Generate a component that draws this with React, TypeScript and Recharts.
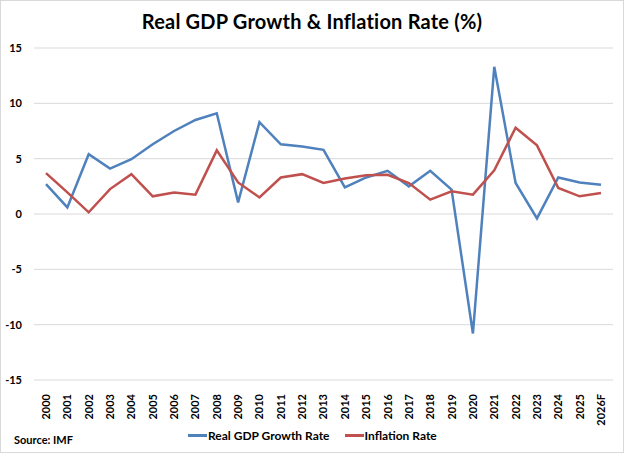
import React from "react";
import { LineChart, Line, XAxis, YAxis, CartesianGrid, Legend } from "recharts";

// Years shown on the category axis (last one is a forecast)
const years = [
  "2000", "2001", "2002", "2003", "2004", "2005", "2006", "2007", "2008", "2009",
  "2010", "2011", "2012", "2013", "2014", "2015", "2016", "2017", "2018", "2019",
  "2020", "2021", "2022", "2023", "2024", "2025", "2026F",
];

// Real GDP growth, % per year
const gdpGrowth = [
  2.7, 0.6, 5.4, 4.1, 4.95, 6.3, 7.5, 8.5, 9.1, 1.05,
  8.3, 6.3, 6.1, 5.8, 2.4, 3.3, 3.9, 2.5, 3.9, 2.2,
  -10.8, 13.3, 2.8, -0.4, 3.3, 2.85, 2.65,
];

// Consumer price inflation, % per year
const inflation = [
  3.7, 1.95, 0.15, 2.25, 3.6, 1.6, 1.95, 1.75, 5.75, 2.85,
  1.5, 3.3, 3.6, 2.8, 3.2, 3.5, 3.55, 2.8, 1.3, 2.05,
  1.75, 3.95, 7.8, 6.2, 2.35, 1.6, 1.9,
];

const yTicks = [-15, -10, -5, 0, 5, 10, 15];
const seriesOrder = ["gdp", "inflation"];

const BLUE = "#4F81BD";
const RED = "#C0504D";
const FONT = "Lato, 'Open Sans', sans-serif";

const rows = years.map((year, i) => ({
  year,
  gdp: gdpGrowth[i],
  inflation: inflation[i],
}));

const YearTick = (props: any) => {
  const { x, y, payload } = props;
  return (
    <text
      transform={`translate(${x},${y}) rotate(-90)`}
      textAnchor="end"
      dy="0.36em"
      fontFamily={FONT}
      fontWeight={700}
      fontSize={11}
      fill="#000"
    >
      {payload.value}
    </text>
  );
};

const LegendContent = (props: any) => {
  const items = [...(props.payload || [])].sort(
    (a: any, b: any) => seriesOrder.indexOf(a.dataKey) - seriesOrder.indexOf(b.dataKey)
  );
  return (
    <div style={{ display: "flex", alignItems: "center", fontFamily: FONT, fontWeight: 700, fontSize: 12, color: "#000", whiteSpace: "nowrap" }}>
      {items.map((item: any, i: number) => (
        <div key={i} style={{ display: "flex", alignItems: "center", marginRight: i === 0 ? 15 : 0 }}>
          <span style={{ display: "inline-block", width: 19, height: 3, background: item.color, marginRight: 1 }} />
          <span>{item.value}</span>
        </div>
      ))}
    </div>
  );
};

export default function App() {
  return (
    <div
      style={{
        position: "absolute",
        left: 0,
        top: 0,
        width: 622,
        height: 451,
        border: "1px solid #d9d9d9",
        background: "#fff",
        overflow: "hidden",
      }}
    >
      <div
        style={{
          position: "absolute",
          left: 0,
          width: 622,
          top: 10,
          lineHeight: "20px",
          textAlign: "center",
          fontFamily: FONT,
          fontWeight: 700,
          fontSize: 20,
          letterSpacing: 0.2,
          color: "#000",
        }}
      >
        Real GDP Growth &amp; Inflation Rate (%)
      </div>
      <div
        style={{
          position: "absolute",
          left: 13,
          top: 432,
          fontFamily: FONT,
          fontWeight: 700,
          fontSize: 11,
          color: "#000",
        }}
      >
        Source: IMF
      </div>
      <div style={{ position: "absolute", left: -1, top: -1 }}>
        <LineChart
          width={624}
          height={453}
          data={rows}
          margin={{ top: 48, right: 11, bottom: 0, left: 0 }}
        >
          <CartesianGrid vertical={false} stroke="#d9d9d9" strokeWidth={1} />
          <XAxis
            dataKey="year"
            axisLine={false}
            tickLine={false}
            interval={0}
            height={73}
            padding={{ left: 12, right: 12 }}
            tick={<YearTick />}
            tickMargin={8}
          />
          <YAxis
            domain={[-15, 15]}
            ticks={yTicks}
            axisLine={false}
            tickLine={false}
            width={34}
            tickSize={0}
            tickMargin={12}
            tick={{ fontFamily: FONT, fontWeight: 700, fontSize: 11, fill: "#000" }}
          />
          <Legend
            verticalAlign="middle"
            align="center"
            layout="horizontal"
            wrapperStyle={{ top: 428, left: 188, width: "auto", height: "auto" }}
            content={<LegendContent />}
          />
          <Line
            name="Real GDP Growth Rate"
            dataKey="gdp"
            stroke={BLUE}
            strokeWidth={2.5}
            dot={false}
            isAnimationActive={false}
          />
          <Line
            name="Inflation Rate"
            dataKey="inflation"
            stroke={RED}
            strokeWidth={2.5}
            dot={false}
            isAnimationActive={false}
          />
        </LineChart>
      </div>
    </div>
  );
}
